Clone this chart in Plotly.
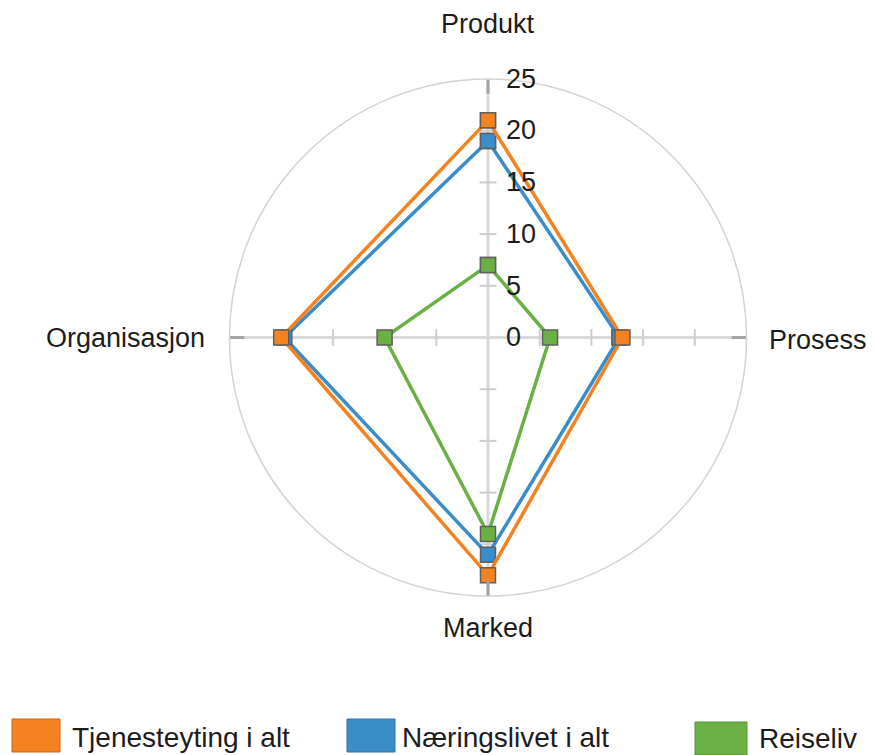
import plotly.graph_objects as go

# Innovation types (angular categories)
kategorier = ["Produkt", "Prosess", "Marked", "Organisasjon"]

# Share of firms (%) per innovation type
tjenesteyting = [21, 13, 23, 20]
naeringslivet = [19, 12.7, 21, 19.7]
reiseliv = [7, 6, 19, 10]

serier = ["Tjenesteyting i alt", "Næringslivet i alt", "Reiseliv"]
farger = ["#F58220", "#3A8DC8", "#6AB044"]
kantfarger = ["#C9661A", "#2E73A6", "#55913A"]

radial_ticks = [0, 5, 10, 15, 20, 25]
minor_r = [5, 10, 15, 20]

FONT = "Liberation Sans, Arial, sans-serif"
TXT = "#1c1c1c"

W, H = 874, 755
# polar circle bounds in pixels
cx0, cx1, cy0, cy1 = 229.5, 746.5, 79, 596


def closed(vals):
    return list(vals) + [vals[0]]


fig = go.Figure()

# small cross ticks along each spoke
for cat in kategorier:
    symbol = "line-ew" if cat in ("Produkt", "Marked") else "line-ns"
    fig.add_trace(go.Scatterpolar(
        r=minor_r, theta=[cat] * len(minor_r), mode="markers",
        marker=dict(symbol=symbol, size=12, line=dict(color="#cdcdcd", width=2)),
        hoverinfo="skip", showlegend=False,
    ))

# draw order: blue, orange, green
for idx in (1, 0, 2):
    vals = [tjenesteyting, naeringslivet, reiseliv][idx]
    fig.add_trace(go.Scatterpolar(
        r=closed(vals), theta=closed(kategorier), mode="lines+markers",
        name=serier[idx],
        line=dict(color=farger[idx], width=3.5),
        marker=dict(symbol="square", size=15, color=farger[idx],
                    line=dict(color="#5f5f5f", width=1.5)),
        showlegend=False,
    ))

fig.update_layout(
    width=W, height=H,
    margin=dict(l=0, r=0, t=0, b=0),
    paper_bgcolor="white",
    font=dict(family=FONT, color=TXT),
    polar=dict(
        domain=dict(x=[cx0 / W, cx1 / W], y=[1 - cy1 / H, 1 - cy0 / H]),
        bgcolor="white",
        radialaxis=dict(
            range=[0, 25], tickvals=radial_ticks, angle=90, tickangle=90,
            showgrid=False, showline=False,
            ticks="outside", ticklen=12, tickcolor="rgba(0,0,0,0)",
            tickfont=dict(size=27, color=TXT, family=FONT),
        ),
        angularaxis=dict(
            type="category", categoryarray=kategorier,
            rotation=90, direction="clockwise",
            showticklabels=False,
            showgrid=True, gridcolor="#d9d9d9", gridwidth=2.5,
            showline=True, linecolor="#d3d3d3", linewidth=1.5,
            ticks="inside", ticklen=14, tickwidth=3, tickcolor="#a5a5a5",
        ),
    ),
)

# angular category labels
label_pos = {
    "Produkt": (488, 24, "center"),
    "Prosess": (767, 340, "left"),
    "Marked": (488, 628, "center"),
    "Organisasjon": (207, 338, "right"),
}
for cat in kategorier:
    x, y, anchor = label_pos[cat]
    fig.add_annotation(x=x / W, y=1 - y / H, xref="paper", yref="paper",
                       text=cat, showarrow=False, xanchor=anchor, yanchor="middle",
                       font=dict(size=27, color=TXT, family=FONT))

# legend: coloured squares with labels
legend_boxes = [(12, 60, 719, 752), (347, 395, 719, 752), (695, 747, 722, 755)]
legend_text = [(70, 737), (400, 737), (757, 738)]
for i, navn in enumerate(serier):
    x0, x1, y0, y1 = legend_boxes[i]
    fig.add_shape(type="rect", xref="paper", yref="paper",
                  x0=x0 / W, x1=x1 / W, y0=1 - y1 / H, y1=1 - y0 / H,
                  fillcolor=farger[i], line=dict(color=kantfarger[i], width=1))
    tx, ty = legend_text[i]
    fig.add_annotation(x=tx / W, y=1 - ty / H, xref="paper", yref="paper",
                       text=navn, showarrow=False, xanchor="left", yanchor="middle",
                       font=dict(size=28, color=TXT, family=FONT))

fig.write_html("out.html")
